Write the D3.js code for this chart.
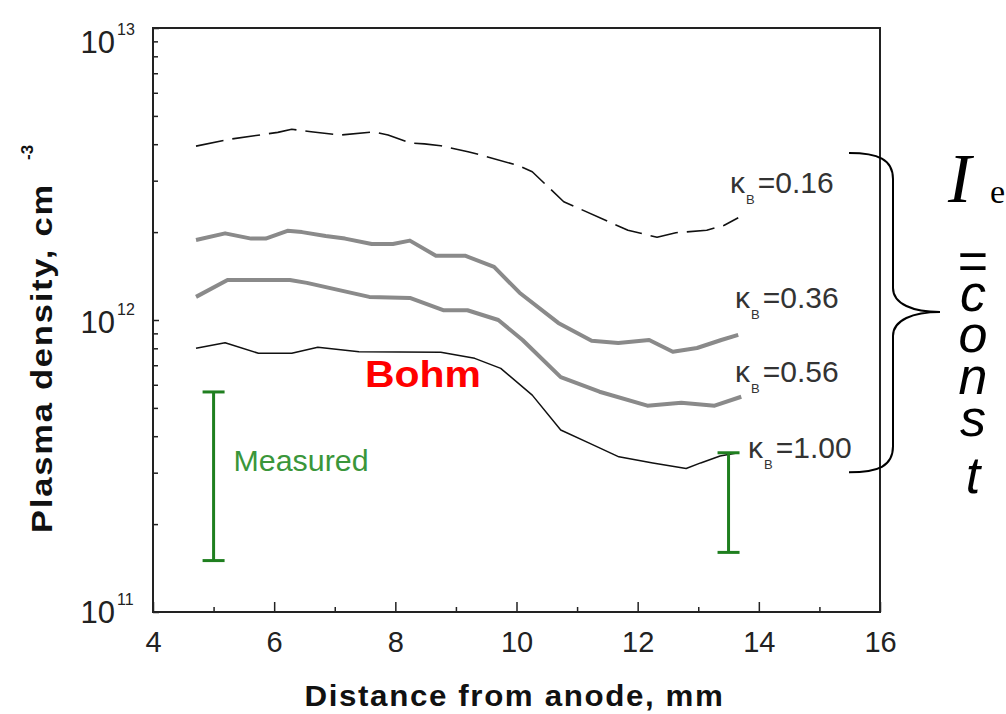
<!DOCTYPE html>
<html>
<head>
<meta charset="utf-8">
<script src="https://cdn.jsdelivr.net/npm/d3@7"></script>
<style>
  html, body { margin: 0; padding: 0; background: #fff; }
  svg { display: block; }
</style>
</head>
<body>
<svg id="chart" width="1006" height="714"></svg>
<script>
// ---------------- data ----------------
const xTicks = [4, 6, 8, 10, 12, 14, 16];
const xMinorTicks = [5, 7, 9, 11, 13, 15];
const yTickExps = [11, 12, 13];

// kappa_B = 0.16 (dashed)
const x016 = [4.71, 5.30, 6.06, 6.29, 6.61, 7.09, 7.65, 7.88, 8.24, 8.48, 8.75, 9.20, 9.46, 10.03, 10.26, 10.78, 11.05, 11.61, 11.84, 12.32, 12.63, 13.14, 13.43, 13.66];
const n016 = [3.94, 4.17, 4.39, 4.50, 4.41, 4.30, 4.41, 4.30, 4.04, 4.01, 3.95, 3.77, 3.65, 3.38, 3.22, 2.54, 2.40, 2.13, 2.03, 1.92, 1.99, 2.03, 2.11, 2.24];
// kappa_B = 0.36 (gray)
const x036 = [4.71, 5.19, 5.62, 5.86, 6.22, 6.46, 6.85, 7.17, 7.61, 7.96, 8.24, 8.67, 9.15, 9.63, 10.05, 10.69, 11.24, 11.68, 12.19, 12.58, 12.98, 13.38, 13.66];
const n036 = [1.88, 1.98, 1.90, 1.90, 2.02, 2.00, 1.94, 1.90, 1.82, 1.82, 1.87, 1.66, 1.66, 1.52, 1.24, 0.977, 0.849, 0.834, 0.854, 0.779, 0.802, 0.854, 0.889];
// kappa_B = 0.56 (gray)
const x056 = [4.71, 5.23, 6.26, 6.54, 7.57, 8.24, 8.79, 9.19, 9.70, 10.10, 10.73, 11.37, 12.16, 12.72, 13.27, 13.71];
const n056 = [1.20, 1.37, 1.37, 1.34, 1.20, 1.19, 1.08, 1.08, 1.00, 0.854, 0.637, 0.568, 0.509, 0.521, 0.509, 0.546];
// kappa_B = 1.00 (Bohm, thin black)
const x100 = [4.71, 5.19, 5.74, 6.29, 6.72, 7.40, 8.75, 9.31, 9.74, 10.26, 10.73, 11.21, 11.69, 12.25, 12.80, 13.04, 13.36, 13.66];
const n100 = [0.800, 0.836, 0.769, 0.769, 0.806, 0.779, 0.776, 0.739, 0.683, 0.553, 0.420, 0.378, 0.340, 0.324, 0.310, 0.324, 0.342, 0.351];

// measured ranges (x10^12 cm^-3)
const measuredX = [5.0, 13.5];
const measuredLow = [0.150, 0.160];
const measuredHigh = [0.567, 0.351];

const kappaLabels = ["0.16", "0.36", "0.56", "1.00"];
const UNIT = 1e12;

// ---------------- layout ----------------
const svg = d3.select("#chart");
const FONT = "'Liberation Sans', Arial, Helvetica, sans-serif";
const SERIF = "'Liberation Serif', 'Times New Roman', serif";
const L = 153, R = 880, T = 28, B = 612;

const x = d3.scaleLinear().domain([4, 16]).range([L, R]);
const y = d3.scaleLog().domain([1e11, 1e13]).range([B, T]);

svg.append("rect").attr("width", 1006).attr("height", 714).attr("fill", "#fff");

// ticks (inward)
const gx = svg.append("g").attr("transform", `translate(0,${B})`);
gx.call(d3.axisBottom(x).tickValues(xTicks).tickSize(-10).tickFormat(""));
gx.call(g => g.select(".domain").remove());
const gxm = svg.append("g").attr("transform", `translate(0,${B})`);
gxm.call(d3.axisBottom(x).tickValues(xMinorTicks).tickSize(-5).tickFormat(""));
gxm.call(g => g.select(".domain").remove());

const yMinor = [];
yTickExps.slice(0, -1).forEach(e => { for (let m = 2; m <= 9; m++) yMinor.push(m * Math.pow(10, e)); });
const gy = svg.append("g").attr("transform", `translate(${L},0)`);
gy.call(d3.axisLeft(y).tickValues(yMinor).tickSize(-5).tickFormat(""));
gy.call(g => g.select(".domain").remove());
const gyM = svg.append("g").attr("transform", `translate(${L},0)`);
gyM.call(d3.axisLeft(y).tickValues(yTickExps.map(e => Math.pow(10, e))).tickSize(-6).tickFormat(""));
gyM.call(g => g.select(".domain").remove());
svg.selectAll(".tick line").attr("stroke", "#222").attr("stroke-width", 1.5);

// x tick labels
const gxl = svg.append("g").attr("transform", `translate(0,${B})`);
gxl.call(d3.axisBottom(x).tickValues(xTicks).tickSize(0).tickPadding(19).tickFormat(d3.format("d")));
gxl.call(g => g.select(".domain").remove());
gxl.selectAll("text").attr("font-family", FONT).attr("font-size", 29).attr("fill", "#222");

// y tick labels 10^n
const yLabelDy = { 11: 11, 12: 13, 13: 25 };
yTickExps.forEach(e => {
  const yy = y(Math.pow(10, e)) + yLabelDy[e];
  svg.append("text").attr("x", 115).attr("y", yy).attr("text-anchor", "end")
    .attr("font-family", FONT).attr("font-size", 31).attr("fill", "#222").text("10");
  svg.append("text").attr("x", 117).attr("y", yy - 18)
    .attr("font-family", FONT).attr("font-size", 16).attr("fill", "#222").text(String(e));
});

// frame
svg.append("rect").attr("x", L).attr("y", T).attr("width", R - L).attr("height", B - T)
  .attr("fill", "none").attr("stroke", "#222").attr("stroke-width", 2);

// axis titles
svg.append("text").attr("x", (L + R) / 2 - 2).attr("y", 706).attr("text-anchor", "middle")
  .attr("font-family", FONT).attr("font-weight", "bold").attr("font-size", 29).attr("fill", "#111")
  .attr("letter-spacing", 1.5)
  .attr("textLength", 420).attr("lengthAdjust", "spacingAndGlyphs").text("Distance from anode, mm");
svg.append("text").attr("transform", "translate(52,533) rotate(-90)")
  .attr("font-family", FONT).attr("font-weight", "bold").attr("font-size", 29).attr("fill", "#111")
  .attr("letter-spacing", 1.5)
  .attr("textLength", 350).attr("lengthAdjust", "spacingAndGlyphs").text("Plasma density, cm");
svg.append("text").attr("transform", "translate(33,160) rotate(-90)")
  .attr("font-family", FONT).attr("font-weight", "bold").attr("font-size", 17).attr("fill", "#111")
  .text("-3");

// curves
const line = d3.line().x(d => x(d[0])).y(d => y(d[1] * UNIT));
const series = [
  { xs: x016, ys: n016, stroke: "#111", width: 1.6, dash: "28,9" },
  { xs: x036, ys: n036, stroke: "#8a8a8a", width: 4, dash: null },
  { xs: x056, ys: n056, stroke: "#8a8a8a", width: 4, dash: null },
  { xs: x100, ys: n100, stroke: "#111", width: 1.5, dash: null }
];
series.forEach(s => {
  svg.append("path").datum(s.xs.map((v, i) => [v, s.ys[i]]))
    .attr("d", line).attr("fill", "none").attr("stroke", s.stroke)
    .attr("stroke-width", s.width).attr("stroke-linejoin", "round")
    .attr("stroke-dasharray", s.dash);
});

// measured error bars
const green = "#1f7f1f";
measuredX.forEach((mx, i) => {
  const cx = x(mx);
  const g = svg.append("g").attr("stroke", green).attr("stroke-width", 3);
  g.append("line").attr("x1", cx).attr("x2", cx).attr("y1", y(measuredLow[i] * UNIT)).attr("y2", y(measuredHigh[i] * UNIT));
  [measuredLow[i], measuredHigh[i]].forEach(v => {
    g.append("line").attr("x1", cx - 11).attr("x2", cx + 11).attr("y1", y(v * UNIT)).attr("y2", y(v * UNIT));
  });
});
svg.append("text").attr("x", x(5.33)).attr("y", 471)
  .attr("font-family", FONT).attr("font-size", 29).attr("fill", "#3a963a")
  .attr("textLength", 135).attr("lengthAdjust", "spacingAndGlyphs").text("Measured");

// Bohm label
svg.append("text").attr("x", x(7.5)).attr("y", 387)
  .attr("font-family", FONT).attr("font-weight", "bold").attr("font-size", 37).attr("fill", "#ff0000")
  .attr("textLength", 116).attr("lengthAdjust", "spacingAndGlyphs").text("Bohm");

// kappa labels
const kapPos = [[730, 193], [735, 308], [735, 382], [748, 458]];
kappaLabels.forEach((lab, i) => {
  const t = svg.append("text").attr("x", kapPos[i][0]).attr("y", kapPos[i][1])
    .attr("font-family", FONT).attr("font-size", 30).attr("fill", "#333");
  t.append("tspan").text("κ");
  t.append("tspan").attr("font-size", 13).attr("dy", 11).attr("dx", 1).text("B");
  t.append("tspan").attr("dy", -11).attr("dx", 3).text("=" + lab);
});

// brace
const bx = 893, tipX = 940;
const yTop = y(3.73e12), yTip = y(1.065e12), yBot = y(0.301e12);
const brace = `M849,${yTop} C878,${yTop} ${bx},${yTop + 6} ${bx},${yTop + 26}
  L${bx},${yTip - 24} C${bx},${yTip - 8} ${bx + 20},${yTip} ${tipX},${yTip}
  C${bx + 20},${yTip} ${bx},${yTip + 8} ${bx},${yTip + 24}
  L${bx},${yBot - 26} C${bx},${yBot - 6} 878,${yBot} 849,${yBot}`;
svg.append("path").attr("d", brace).attr("fill", "none").attr("stroke", "#000").attr("stroke-width", 2);

// I_e = const (stacked)
const ie = svg.append("text").attr("x", 948).attr("y", 202).attr("fill", "#000");
ie.append("tspan").attr("font-family", SERIF).attr("font-style", "italic").attr("font-size", 70).text("I");
ie.append("tspan").attr("x", 990).attr("y", 203).attr("font-family", SERIF).attr("font-size", 34).text("e");

const stack = svg.append("text").attr("text-anchor", "middle").attr("fill", "#000")
  .attr("font-family", FONT).attr("font-size", 52);
stack.append("tspan").attr("x", 973).attr("y", 279).text("=");
const letters = ["c", "o", "n", "s", "t"];
const baseY = [311, 352, 394, 436, 493];
letters.forEach((c, i) => {
  stack.append("tspan").attr("x", 973).attr("y", baseY[i]).attr("font-style", "italic").text(c);
});
</script>
</body>
</html>
